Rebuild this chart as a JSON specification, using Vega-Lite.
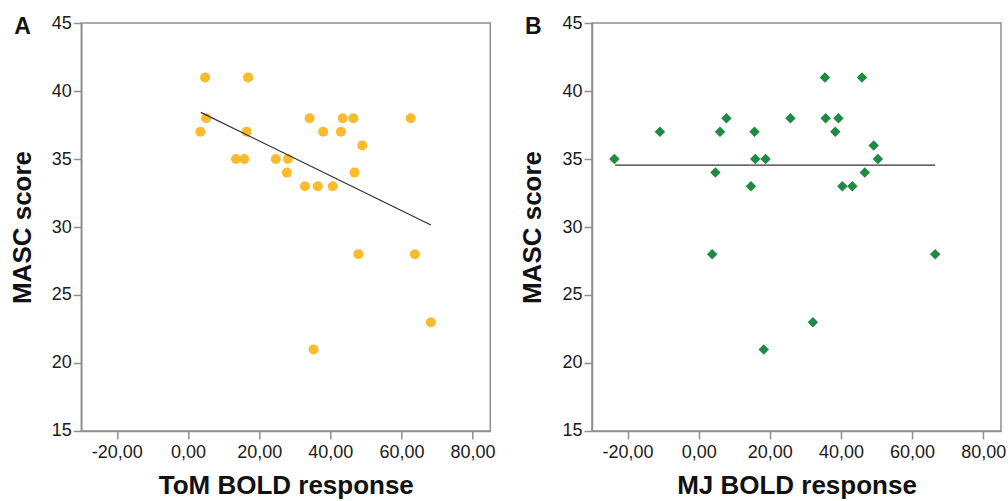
{
  "$schema": "https://vega.github.io/schema/vega-lite/v6.json",
  "padding": {"left": 8.3, "top": 13, "right": 0, "bottom": 0},
  "background": "white",
  "bounds": "flush",
  "spacing": 101.7,
  "datasets": {
    "tom": [
      {"bold": 4.8, "masc": 41}, {"bold": 16.9, "masc": 41},
      {"bold": 5.1, "masc": 38}, {"bold": 34.2, "masc": 38}, {"bold": 43.5, "masc": 38}, {"bold": 46.5, "masc": 38}, {"bold": 62.6, "masc": 38},
      {"bold": 3.5, "masc": 37}, {"bold": 16.5, "masc": 37}, {"bold": 38.0, "masc": 37}, {"bold": 43.0, "masc": 37},
      {"bold": 49.0, "masc": 36},
      {"bold": 13.5, "masc": 35}, {"bold": 15.8, "masc": 35}, {"bold": 24.7, "masc": 35}, {"bold": 28.1, "masc": 35},
      {"bold": 27.8, "masc": 34}, {"bold": 46.8, "masc": 34},
      {"bold": 32.9, "masc": 33}, {"bold": 36.5, "masc": 33}, {"bold": 40.7, "masc": 33},
      {"bold": 47.9, "masc": 28}, {"bold": 63.8, "masc": 28},
      {"bold": 68.3, "masc": 23}, {"bold": 35.3, "masc": 21}
    ],
    "tomFit": [{"bold": 3.6, "masc": 38.43}, {"bold": 68.3, "masc": 30.15}],
    "mj": [
      {"bold": -23.7, "masc": 35}, {"bold": 15.9, "masc": 35}, {"bold": 18.8, "masc": 35}, {"bold": 50.4, "masc": 35},
      {"bold": -10.9, "masc": 37}, {"bold": 6.0, "masc": 37}, {"bold": 15.7, "masc": 37}, {"bold": 38.4, "masc": 37},
      {"bold": 7.8, "masc": 38}, {"bold": 25.8, "masc": 38}, {"bold": 35.7, "masc": 38}, {"bold": 39.3, "masc": 38},
      {"bold": 4.7, "masc": 34}, {"bold": 46.7, "masc": 34},
      {"bold": 14.7, "masc": 33}, {"bold": 40.4, "masc": 33}, {"bold": 43.2, "masc": 33},
      {"bold": 3.8, "masc": 28}, {"bold": 66.5, "masc": 28},
      {"bold": 18.3, "masc": 21}, {"bold": 32.1, "masc": 23},
      {"bold": 35.5, "masc": 41}, {"bold": 45.9, "masc": 41},
      {"bold": 49.2, "masc": 36}
    ],
    "mjFit": [{"bold": -23.5, "masc": 34.55}, {"bold": 66.5, "masc": 34.55}]
  },
  "config": {
    "view": {"stroke": "#8f8f8f", "strokeWidth": 1.5},
    "axis": {
      "grid": false,
      "domainColor": "#8f8f8f", "domainWidth": 1.5,
      "tickColor": "#8f8f8f", "tickSize": 8, "tickWidth": 1.5,
      "labelFont": "Liberation Sans", "labelFontSize": 18, "labelColor": "#1a1a1a",
      "titleFont": "Liberation Sans", "titleFontSize": 26, "titleFontWeight": "bold", "titleColor": "#111111"
    },
    "axisX": {"labelPadding": 5, "titlePadding": 11},
    "axisY": {"labelPadding": 2, "titlePadding": 16},
    "title": {"font": "Liberation Sans", "fontSize": 23, "fontWeight": "bold", "color": "#111111", "anchor": "start", "frame": "group"}
  },
  "hconcat": [
    {
      "width": 409, "height": 408,
      "title": {"text": "A", "fontSize": 23, "dx": -67, "dy": 25, "offset": 0},
      "layer": [
        {
          "data": {"name": "tom"},
          "mark": {"type": "point", "shape": "circle", "filled": true, "size": 100, "opacity": 1, "color": "#fbbb2c"},
          "encoding": {
            "x": {"field": "bold", "type": "quantitative", "scale": {"domain": [-30, 85], "nice": false, "zero": false},
                  "axis": {"title": "ToM BOLD response", "values": [-20, 0, 20, 40, 60, 80], "labelExpr": "(datum.value < 0 ? '-' : '') + replace(format(abs(datum.value), '.2f'), '.', ',')"}},
            "y": {"field": "masc", "type": "quantitative", "scale": {"domain": [15, 45], "nice": false, "zero": false},
                  "axis": {"title": "MASC score", "values": [15, 20, 25, 30, 35, 40, 45]}}
          }
        },
        {
          "data": {"name": "tomFit"},
          "mark": {"type": "line", "color": "#333333", "strokeWidth": 1.3},
          "encoding": {
            "x": {"field": "bold", "type": "quantitative"},
            "y": {"field": "masc", "type": "quantitative"}
          }
        }
      ]
    },
    {
      "width": 409, "height": 408,
      "title": {"text": "B", "fontSize": 23, "dx": -67, "dy": 25, "offset": 0},
      "layer": [
        {
          "data": {"name": "mj"},
          "mark": {"type": "point", "shape": "diamond", "filled": true, "size": 110, "opacity": 1, "color": "#1e8a42"},
          "encoding": {
            "x": {"field": "bold", "type": "quantitative", "scale": {"domain": [-30, 85], "nice": false, "zero": false},
                  "axis": {"title": "MJ BOLD response", "values": [-20, 0, 20, 40, 60, 80], "labelExpr": "(datum.value < 0 ? '-' : '') + replace(format(abs(datum.value), '.2f'), '.', ',')"}},
            "y": {"field": "masc", "type": "quantitative", "scale": {"domain": [15, 45], "nice": false, "zero": false},
                  "axis": {"title": "MASC score", "values": [15, 20, 25, 30, 35, 40, 45]}}
          }
        },
        {
          "data": {"name": "mjFit"},
          "mark": {"type": "line", "color": "#333333", "strokeWidth": 1.3},
          "encoding": {
            "x": {"field": "bold", "type": "quantitative"},
            "y": {"field": "masc", "type": "quantitative"}
          }
        }
      ]
    }
  ]
}
